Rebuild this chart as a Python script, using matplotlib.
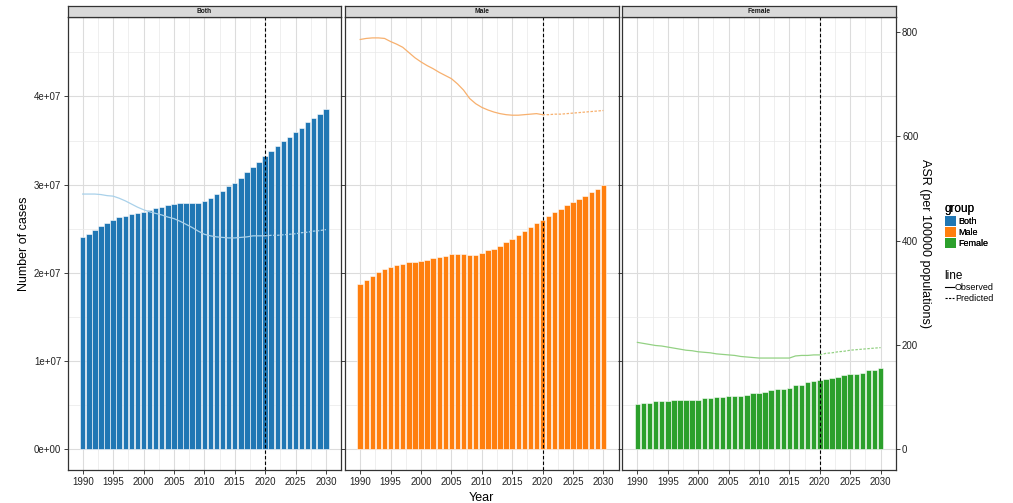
import matplotlib
matplotlib.use("Agg")
import matplotlib.pyplot as plt
from matplotlib.lines import Line2D
from matplotlib.patches import Patch
import numpy as np

plt.rcParams["font.family"] = ["Liberation Sans", "DejaVu Sans"]

years = list(range(1990, 2031))
split_year = 2020  # observed up to here, predicted after

# number of cases (bars)
cases_both = [2.405, 2.446, 2.49, 2.535, 2.57, 2.60, 2.63, 2.65, 2.665, 2.675,
              2.69, 2.71, 2.73, 2.75, 2.77, 2.78, 2.79, 2.79, 2.79, 2.79,
              2.815, 2.85, 2.895, 2.93, 2.98, 3.02, 3.08, 3.145, 3.205, 3.26,
              3.325, 3.38, 3.44, 3.49, 3.545, 3.60, 3.645, 3.705, 3.76, 3.805,
              3.86]
cases_male = [1.88, 1.925, 1.97, 2.005, 2.04, 2.07, 2.095, 2.105, 2.12, 2.12,
              2.13, 2.15, 2.165, 2.185, 2.195, 2.215, 2.215, 2.215, 2.205, 2.205,
              2.22, 2.257, 2.275, 2.31, 2.345, 2.38, 2.425, 2.47, 2.515, 2.56,
              2.605, 2.64, 2.685, 2.72, 2.765, 2.80, 2.84, 2.875, 2.92, 2.955,
              3.00]
cases_female = [0.52, 0.53, 0.53, 0.545, 0.545, 0.545, 0.555, 0.555, 0.555, 0.565,
                0.565, 0.58, 0.58, 0.59, 0.59, 0.60, 0.61, 0.61, 0.62, 0.635,
                0.645, 0.655, 0.67, 0.68, 0.69, 0.70, 0.725, 0.735, 0.76, 0.77,
                0.79, 0.80, 0.815, 0.825, 0.84, 0.85, 0.86, 0.87, 0.895, 0.905,
                0.92]

# ASR per 100000 (lines, secondary axis)
asr_both = [489, 489, 489, 488, 486, 485, 481, 476, 470, 464,
            459, 455, 452, 449, 445, 442, 437, 431, 425, 418,
            412, 409, 407, 406, 405, 405, 406, 407, 409, 409,
            409, 410, 410, 411, 412, 413, 415, 416, 418, 419,
            421]
asr_male = [785, 787, 788, 788, 787, 781, 776, 770, 760, 750,
            742, 735, 729, 722, 716, 710, 700, 688, 672, 662,
            655, 650, 646, 643, 641, 640, 640, 641, 642, 643,
            641, 641, 642, 642, 643, 644, 645, 646, 647, 648,
            649]
asr_female = [205, 203, 201, 199, 198, 196, 194, 192, 190, 189,
              187, 186, 185, 183, 182, 181, 180, 178, 177, 176,
              175, 175, 175, 175, 175, 175, 179, 180, 180, 181,
              181, 184, 185, 187, 188, 190, 191, 192, 193, 194,
              195]

groups = ["Both", "Male", "Female"]
bar_colors = ["#2077b4", "#ff7f0e", "#2ca02c"]
line_colors = ["#a9d1ea", "#f7b06e", "#93d183"]
cases = [cases_both, cases_male, cases_female]
asr = [asr_both, asr_male, asr_female]

SCALE = 1e7          # bar values above are in units of 1e7
K = 59170            # cases per ASR unit (secondary axis factor)
ylim = (-0.233e7, 4.896e7)
ylim_r = (ylim[0] / K, ylim[1] / K)

W, H = 1013, 503
fig = plt.figure(figsize=(W / 100, H / 100), dpi=100)

def px(x0, y0, x1, y1):
    return [x0 / W, 1 - y1 / H, (x1 - x0) / W, (y1 - y0) / H]

lefts = [67.5, 345.0, 622.2]
pw = 273.6
top, bottom, strip_top = 17.3, 470.0, 5.7
border = "#333333"
tick_kw = dict(labelsize=7, colors="#222222", length=3, width=0.6)

yrs = np.array(years)
obs = yrs <= split_year
pred = yrs >= split_year

for i, g in enumerate(groups):
    ax = fig.add_axes(px(lefts[i], top, lefts[i] + pw, bottom))
    ax.set_xlim(1987.5, 2032.5)
    ax.set_ylim(*ylim)
    ax.set_xticks(range(1990, 2031, 5))
    ax.set_xticks(np.arange(1992.5, 2030, 5), minor=True)
    ax.set_yticks(np.arange(0, 4.1e7, 1e7))
    ax.set_yticks(np.arange(0.5e7, 4.9e7, 1e7), minor=True)
    ax.grid(which="major", color="#dcdcdc", lw=0.8)
    ax.grid(which="minor", color="#e9e9e9", lw=0.5)
    ax.set_axisbelow(True)
    ax.bar(years, np.array(cases[i]) * SCALE, width=0.9, color=bar_colors[i],
           edgecolor="white", linewidth=0.4, zorder=2)
    ax.axvline(split_year, color="black", lw=0.8, ls=(0, (3, 2)), zorder=4)
    for s in ax.spines.values():
        s.set_color(border)
        s.set_linewidth(0.9)
    ax.tick_params(axis="both", which="major", **tick_kw)
    ax.tick_params(axis="both", which="minor", length=0)
    ax.tick_params(axis="x", pad=2)
    ax.tick_params(axis="y", pad=1.5)
    if i == 0:
        ax.set_yticklabels(["0e+00", "1e+07", "2e+07", "3e+07", "4e+07"])
        ax.set_ylabel("Number of cases", fontsize=9)
        ax.yaxis.set_label_coords(-(67.5 - 30) / pw, 0.5)
    else:
        ax.tick_params(axis="y", which="both", left=False, labelleft=False)
    if i == 1:
        ax.set_xlabel("Year", fontsize=9)
        ax.xaxis.set_label_coords(0.5, -(492 - bottom) / (bottom - top))

    axr = ax.twinx()
    axr.set_ylim(*ylim_r)
    a = np.array(asr[i])
    axr.plot(yrs[obs], a[obs], color=line_colors[i], lw=0.9, zorder=3)
    axr.plot(yrs[pred], a[pred], color=line_colors[i], lw=0.9, ls=(0, (2, 1.2)), zorder=3)
    for s in axr.spines.values():
        s.set_visible(False)
    if i == 2:
        axr.set_yticks([0, 200, 400, 600, 800])
        axr.tick_params(axis="y", pad=1.5, **tick_kw)
        axr.set_ylabel("ASR (per 100000 populations)", fontsize=9,
                       rotation=-90, va="center")
        axr.yaxis.set_label_coords(1 + (925 - lefts[2] - pw) / pw, 0.5)
    else:
        axr.set_yticks([])

    # facet strip
    st = fig.add_axes(px(lefts[i], strip_top, lefts[i] + pw, top))
    st.set_facecolor("#d9d9d9")
    st.set_xticks([])
    st.set_yticks([])
    for s in st.spines.values():
        s.set_color(border)
        s.set_linewidth(0.9)
    st.text(0.5, 0.5, g, ha="center", va="center", fontsize=4.8,
            fontweight="bold", color="#1a1a1a", transform=st.transAxes)

# legends
group_handles = [Patch(facecolor=c, edgecolor="none") for c in bar_colors]
leg1 = fig.legend(group_handles, groups, title="group", loc="upper left",
                  bbox_to_anchor=(941 / W, 1 - 199 / H), frameon=False,
                  fontsize=6.5, title_fontsize=8.5, handlelength=1.3,
                  handleheight=1.3, labelspacing=0.12, handletextpad=0.25,
                  borderaxespad=0, alignment="left")
line_handles = [Line2D([], [], color="black", lw=0.8),
                Line2D([], [], color="black", lw=0.8, ls=(0, (2, 1.2)))]
fig.legend(line_handles, ["Observed", "Predicted"], title="line",
           loc="upper left", bbox_to_anchor=(941 / W, 1 - 266 / H),
           frameon=False, fontsize=6.5, title_fontsize=8.5, handlelength=1.0,
           labelspacing=0.2, handletextpad=0.15, borderaxespad=0,
           alignment="left")
fig.add_artist(leg1)

fig.savefig("out.png", dpi=100)
